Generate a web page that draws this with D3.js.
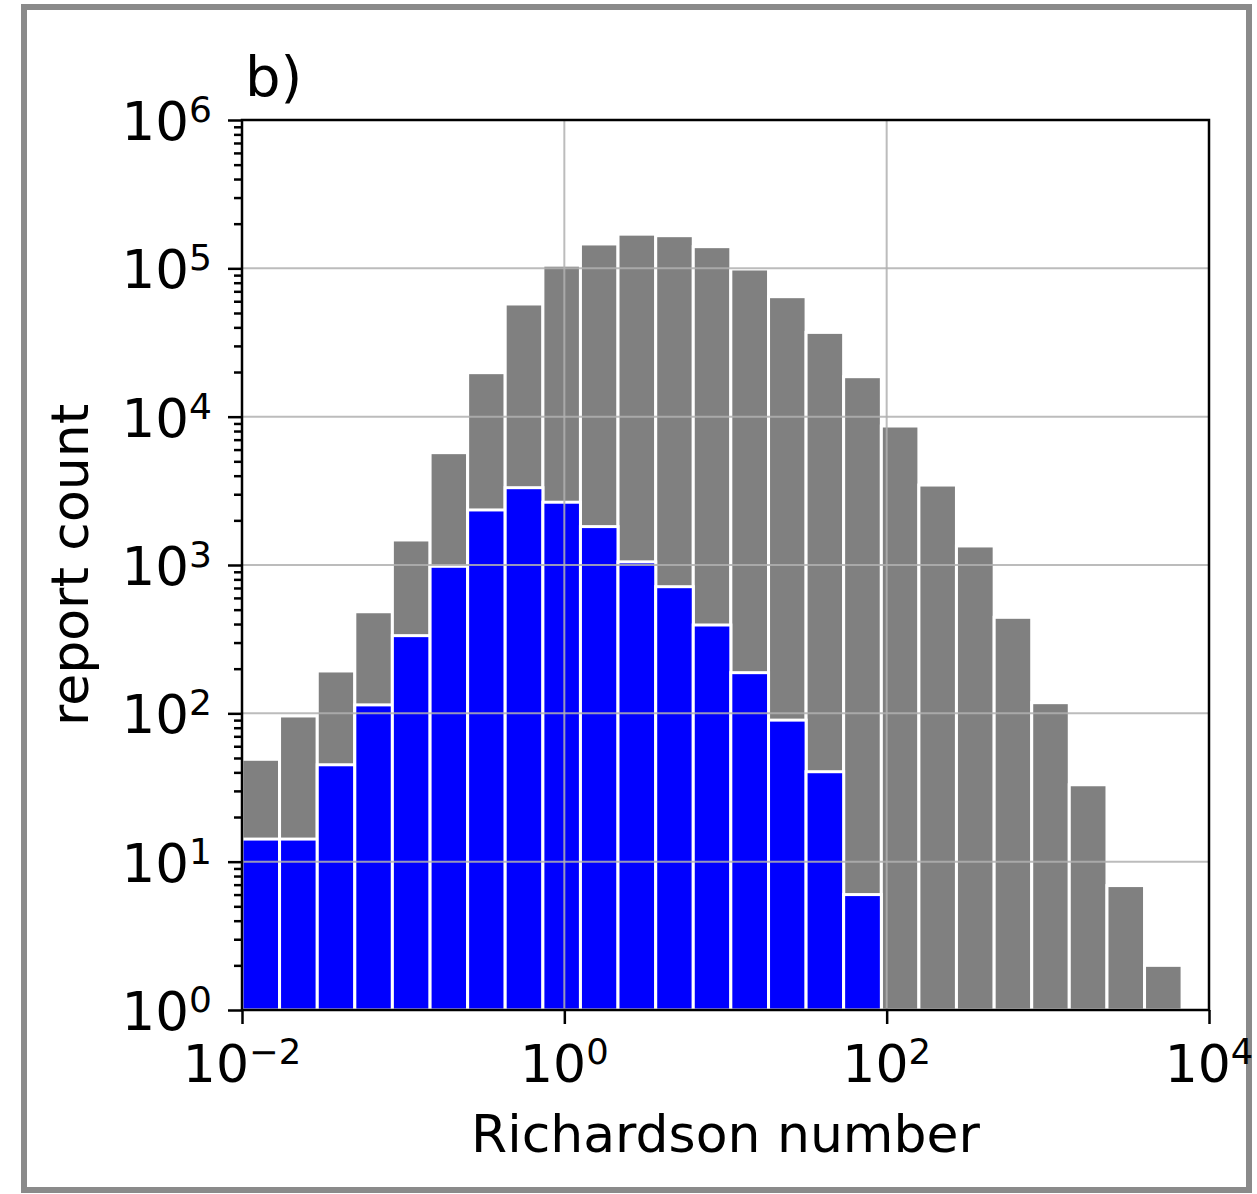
<!DOCTYPE html>
<html>
<head>
<meta charset="utf-8">
<script src="https://cdn.jsdelivr.net/npm/d3@7"></script>
<style>
  body { margin: 0; background: #fff; }
  text { font-family: "DejaVu Sans", sans-serif; fill: #000; }
</style>
</head>
<body>
<div id="chart"></div>
<script>
// bin edges of the histogram, as log10(Richardson number)
var binEdgeExp = [-2, -1.767, -1.533, -1.3, -1.067, -0.833, -0.6, -0.367, -0.133, 0.1,
                  0.333, 0.567, 0.8, 1.033, 1.267, 1.5, 1.733, 1.967, 2.2, 2.433,
                  2.667, 2.9, 3.133, 3.367, 3.6, 3.833];
// all reports (gray)
var allCounts = [49, 96, 193, 484, 1475, 5720, 19800, 57500, 105000, 146000,
                 170000, 166000, 140000, 99000, 64400, 37000, 18600, 8650, 3460, 1344,
                 444, 118, 33, 6.9, 2.0];
// subset (blue)
var subCounts = [14.2, 14.2, 45, 114, 334, 980, 2350, 3320, 2650, 1815,
                 1050, 714, 394, 188, 90, 40.4, 6.0];
var xTickExp = [-2, 0, 2, 4];
var yTickExp = [0, 1, 2, 3, 4, 5, 6];

var W = 1257, H = 1194;
var margin = {top: 120, right: 48, bottom: 184, left: 242};
var width = W - margin.left - margin.right;   // 967
var height = H - margin.top - margin.bottom;  // 890

var svg = d3.select('#chart').append('svg')
  .attr('width', W)
  .attr('height', H);

// grey frame round the figure
svg.append('rect')
  .attr('x', 24).attr('y', 7)
  .attr('width', 1225).attr('height', 1183)
  .attr('fill', 'none')
  .attr('stroke', '#8a8a8a')
  .attr('stroke-width', 6);

var g = svg.append('g')
  .attr('transform', 'translate(' + margin.left + ',' + margin.top + ')');

var x = d3.scaleLog().domain([1e-2, 1e4]).range([0, width]);
var y = d3.scaleLog().domain([1e0, 1e6]).range([height, 0]);

function drawBars(counts, fill) {
  g.append('g')
    .selectAll('rect')
    .data(counts)
    .enter().append('rect')
      .attr('x', (d, i) => x(Math.pow(10, binEdgeExp[i])))
      .attr('width', (d, i) => x(Math.pow(10, binEdgeExp[i + 1])) - x(Math.pow(10, binEdgeExp[i])))
      .attr('y', d => y(d))
      .attr('height', d => height - y(d))
      .style('fill', fill)
      .style('stroke', 'white')
      .style('stroke-width', 3);
}
drawBars(allCounts, '#808080');
drawBars(subCounts, '#0000ff');

// grid on top of the bars
var grid = g.append('g').attr('class', 'grid');
grid.selectAll('.gy')
  .data(yTickExp)
  .enter().append('line')
    .attr('x1', 0).attr('x2', width)
    .attr('y1', d => y(Math.pow(10, d)))
    .attr('y2', d => y(Math.pow(10, d)))
    .style('stroke', '#b0b0b0')
    .style('stroke-opacity', 0.85)
    .style('stroke-width', 2);
grid.selectAll('.gx')
  .data(xTickExp)
  .enter().append('line')
    .attr('y1', 0).attr('y2', height)
    .attr('x1', d => x(Math.pow(10, d)))
    .attr('x2', d => x(Math.pow(10, d)))
    .style('stroke', '#b0b0b0')
    .style('stroke-opacity', 0.85)
    .style('stroke-width', 2);

// axes
var minorY = [];
d3.range(0, 6).forEach(function(k) {
  d3.range(2, 10).forEach(function(m) { minorY.push(m * Math.pow(10, k)); });
});

var yAxisMinor = d3.axisLeft(y).tickValues(minorY).tickSize(8).tickFormat('');
var yAxis = d3.axisLeft(y).tickValues(yTickExp.map(d => Math.pow(10, d))).tickSize(14).tickFormat('');
var xAxis = d3.axisBottom(x).tickValues(xTickExp.map(d => Math.pow(10, d))).tickSize(14).tickFormat('');

g.append('g').attr('class', 'axis').call(yAxisMinor);
g.append('g').attr('class', 'axis').call(yAxis);
g.append('g').attr('class', 'axis')
  .attr('transform', 'translate(0,' + height + ')')
  .call(xAxis);

g.selectAll('.axis .domain').remove();
g.selectAll('.axis line').style('stroke', '#000').style('stroke-width', 2.5);

// frame
g.append('rect')
  .attr('width', width).attr('height', height)
  .attr('fill', 'none')
  .style('stroke', '#000')
  .style('stroke-width', 2.5);

// tick labels with exponents
function expLabel(sel, e) {
  sel.append('tspan').text('10');
  sel.append('tspan')
    .attr('dy', '-0.5em')
    .style('font-size', '0.68em')
    .text(e < 0 ? '\u2212' + (-e) : e);
}

g.selectAll('.ylab')
  .data(yTickExp)
  .enter().append('text')
    .attr('x', -30)
    .attr('y', d => y(Math.pow(10, d)) + 20)
    .attr('text-anchor', 'end')
    .style('font-size', '53px')
    .each(function(d) { expLabel(d3.select(this), d); });

g.selectAll('.xlab')
  .data(xTickExp)
  .enter().append('text')
    .attr('x', d => x(Math.pow(10, d)))
    .attr('y', height + 72)
    .attr('text-anchor', 'middle')
    .style('font-size', '52px')
    .each(function(d) { expLabel(d3.select(this), d); });

// titles
g.append('text')
  .attr('x', width / 2)
  .attr('y', height + 142)
  .attr('text-anchor', 'middle')
  .style('font-size', '52px')
  .text('Richardson number');

g.append('text')
  .attr('transform', 'translate(-154,' + (height / 2) + ') rotate(-90)')
  .attr('text-anchor', 'middle')
  .style('font-size', '52px')
  .text('report count');

g.append('text')
  .attr('x', 3)
  .attr('y', -24)
  .style('font-size', '56px')
  .text('b)');
</script>
</body>
</html>
